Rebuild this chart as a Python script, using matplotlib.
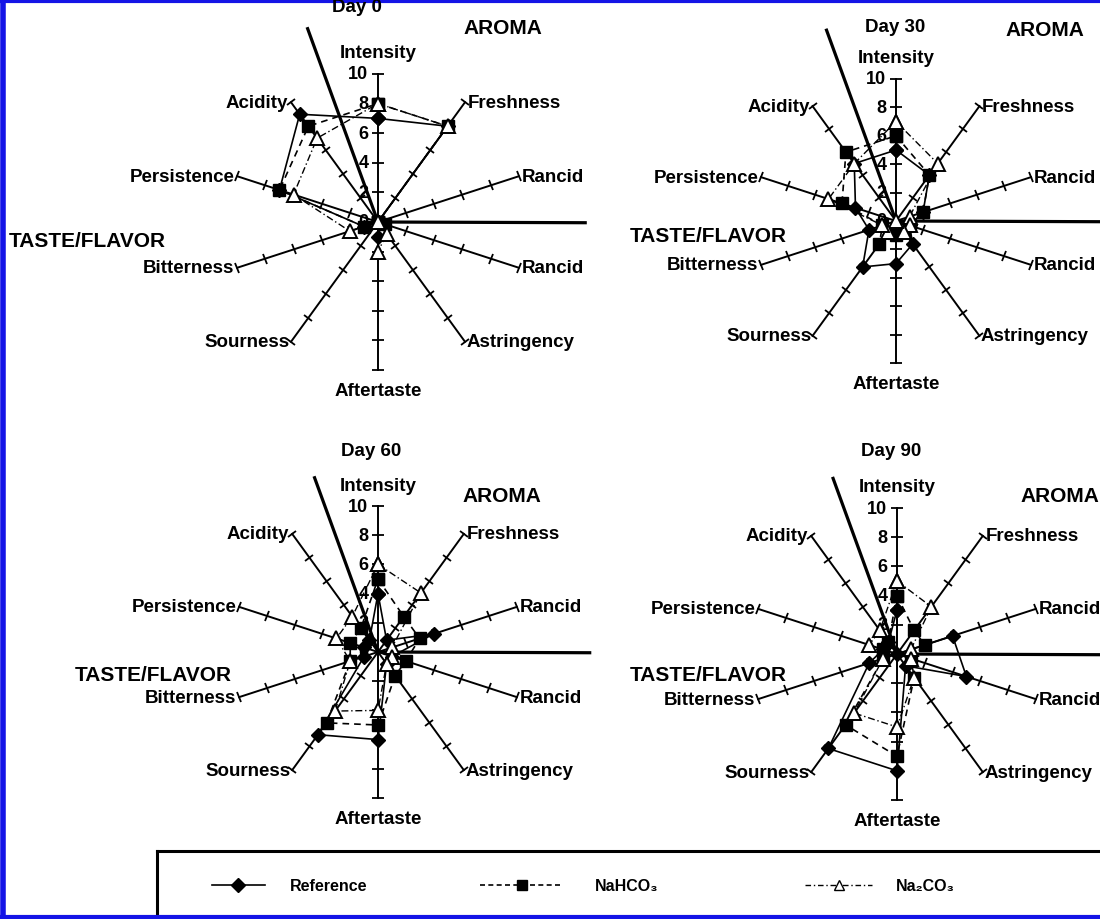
import numpy as np
import matplotlib
matplotlib.use('Agg')
import matplotlib.pyplot as plt
from matplotlib.markers import MarkerStyle
from matplotlib.transforms import Affine2D
from matplotlib.lines import Line2D

plt.rcParams['font.family'] = ['Liberation Sans', 'DejaVu Sans']
plt.rcParams['font.weight'] = 'bold'

# ---------------- data ----------------
categories = ['Intensity', 'Freshness', 'Rancid', 'Rancid', 'Astringency',
              'Aftertaste', 'Sourness', 'Bitterness', 'Persistence', 'Acidity']
days = ['Day 0', 'Day 30', 'Day 60', 'Day 90']
series_names = ['Reference', 'NaHCO\u2083', 'Na\u2082CO\u2083']
scale_ticks = [0, 2, 4, 6, 8, 10]

reference_day0 = [7, 8, 0, 0, 0, 1, 0, 1, 7, 9]
nahco3_day0 = [8, 8, 0, 0.5, 0, 0, 0, 1, 7, 8]
na2co3_day0 = [8, 8, 0, 0, 1, 2, 0, 2, 6, 7]

reference_day30 = [5, 4, 2, 1, 2, 3, 4, 2, 3, 5]
nahco3_day30 = [6, 4, 2, 1, 1, 1, 2, 1, 4, 6]
na2co3_day30 = [7, 5, 1, 1, 1, 0, 1, 1, 5, 5]

reference_day60 = [4, 1, 4, 1, 1, 6, 7, 1, 1, 1]
nahco3_day60 = [5, 3, 3, 2, 2, 5, 6, 2, 2, 2]
na2co3_day60 = [6, 5, 1, 1, 1, 4, 5, 2, 3, 3]

reference_day90 = [3, 0, 4, 5, 1, 8, 8, 2, 1, 1]
nahco3_day90 = [4, 2, 2, 1, 2, 7, 6, 1, 1, 1]
na2co3_day90 = [5, 4, 1, 1, 2, 5, 5, 1, 2, 2]

day_series = [
    (reference_day0, nahco3_day0, na2co3_day0),
    (reference_day30, nahco3_day30, na2co3_day30),
    (reference_day60, nahco3_day60, na2co3_day60),
    (reference_day90, nahco3_day90, na2co3_day90),
]

# ---------------- layout (pixels) ----------------
W, H = 1100, 920
centers = [(378, 223, 148), (896, 222, 142), (378, 653, 146), (897, 655, 146)]
divider_len = [13.9, 14.3, 12.7, 12.8]
horiz_len = [14.0, 14.6, 14.5, 14.6]
title_pos = [(357, 8), (895, 28), (371, 452), (891, 452)]
aroma_pos = [(503, 28), (1045, 30), (502, 497), (1060, 497)]
taste_pos = [(9, 242), (630, 236), (75, 676), (630, 676)]

FS = 13.5
NUM_FS = 13
styles = [
    dict(color='black', lw=1.2, ls='-', marker='D', ms=7.5, mfc='black', mec='black', zorder=5),
    dict(color='black', lw=1.2, ls=(0, (4, 3)), marker='s', ms=9, mfc='black', mec='black', zorder=6),
    dict(color='black', lw=1.0, ls=(0, (5, 2, 1, 2)), marker='^', ms=10, mfc='white', mec='black',
         mew=1.4, zorder=7),
]

fig = plt.figure(figsize=(W / 100, H / 100), dpi=100)
fig.patch.set_facecolor('white')

theta = np.deg2rad(np.arange(len(categories)) * 36.0)


def fx(x):
    return x / W


def fy(y):
    return 1 - y / H


label_cfg = {
    0: dict(ha='center', va='bottom', off=(0, 9)),
    1: dict(ha='left', va='center', off=(2, 0)),
    2: dict(ha='left', va='center', off=(2, 0)),
    3: dict(ha='left', va='center', off=(2, 0)),
    4: dict(ha='left', va='center', off=(1, 0)),
    5: dict(ha='center', va='top', off=(0, -9)),
    6: dict(ha='right', va='center', off=(-1, 0)),
    7: dict(ha='right', va='center', off=(-2, 0)),
    8: dict(ha='right', va='center', off=(-2, 0)),
    9: dict(ha='right', va='center', off=(-2, 0)),
}

for d, (cx, cy, r10) in enumerate(centers):
    ax = fig.add_axes([fx(cx - r10), fy(cy + r10), 2 * r10 / W, 2 * r10 / H], projection='polar')
    ax.set_theta_zero_location('N')
    ax.set_theta_direction(-1)
    ax.set_ylim(0, 10)
    ax.axis('off')

    # spokes with ticks
    for i, th in enumerate(theta):
        ax.plot([th, th], [0, 10], color='black', lw=1.4, clip_on=False, zorder=2)
        rot = 90 - np.rad2deg(th)
        tick_ms = 9 if i in (0, 5) else 7.5
        mk = MarkerStyle('|', transform=Affine2D().rotate_deg(rot))
        ax.plot([th] * 5, scale_ticks[1:], ls='none', marker=mk, ms=tick_ms, mew=1.3,
                color='black', clip_on=False, zorder=2)
        cfg = label_cfg[i]
        ax.annotate(categories[i], (th, 10), xytext=cfg['off'], textcoords='offset points',
                    ha=cfg['ha'], va=cfg['va'], fontsize=FS, fontweight='bold',
                    annotation_clip=False)

    # scale numbers on the Intensity spoke
    for v in scale_ticks:
        ax.annotate(str(v), (0, v), xytext=(-7, 0), textcoords='offset points',
                    ha='right', va='center', fontsize=NUM_FS, fontweight='bold',
                    annotation_clip=False)

    # AROMA / TASTE dividers
    ax.plot([np.deg2rad(-20), np.deg2rad(-20)], [0, divider_len[d]], color='black', lw=2.3,
            clip_on=False, zorder=3)
    ax.plot([np.deg2rad(90.2), np.deg2rad(90.2)], [0, horiz_len[d]], color='black', lw=2.3,
            clip_on=False, zorder=3)

    # data series
    th_closed = np.append(theta, theta[0])
    for s, vals in enumerate(day_series[d]):
        v = np.append(vals, vals[0])
        ax.plot(th_closed, v, clip_on=False, **styles[s])

    fig.text(fx(title_pos[d][0]), fy(title_pos[d][1]), days[d], ha='center', va='center',
             fontsize=FS, fontweight='bold')
    fig.text(fx(aroma_pos[d][0]), fy(aroma_pos[d][1]), 'AROMA', ha='center', va='center',
             fontsize=15, fontweight='bold')
    fig.text(fx(taste_pos[d][0]), fy(taste_pos[d][1]), 'TASTE/FLAVOR', ha='left', va='center',
             fontsize=15, fontweight='bold')

# ---------------- legend ----------------
legend_box_top, legend_box_left = 852, 157
fig.add_artist(Line2D([fx(legend_box_left), 1.0], [fy(legend_box_top)] * 2, color='black',
                      lw=2.2, transform=fig.transFigure))
fig.add_artist(Line2D([fx(legend_box_left)] * 2, [fy(legend_box_top), fy(918)], color='black',
                      lw=2.2, transform=fig.transFigure))

handles = [
    Line2D([], [], color='black', lw=1.2, ls='-', marker='D', ms=7, mfc='black'),
    Line2D([], [], color='black', lw=1.2, ls=(0, (3, 2)), marker='s', ms=7, mfc='black'),
    Line2D([], [], color='black', lw=1.0, ls=(0, (4, 2, 1, 2)), marker='^', ms=6.5, mfc='white',
           mew=1.0),
]
legend_x = [212, 480, 805]
legend_hl = [3.3, 5.2, 4.2]
legend_pad = [1.6, 2.0, 1.5]
for k in range(3):
    fig.legend([handles[k]], [series_names[k]], loc='center left',
               bbox_to_anchor=(fx(legend_x[k]), fy(887)), frameon=False,
               handlelength=legend_hl[k], handletextpad=legend_pad[k],
               borderaxespad=0, borderpad=0, numpoints=1,
               prop=dict(family=['Liberation Sans', 'DejaVu Sans'], weight='bold', size=11.5))

# ---------------- blue frame ----------------
blue = '#1414e6'
fig.add_artist(Line2D([0, 1], [fy(1.5)] * 2, color=blue, lw=3, transform=fig.transFigure))
fig.add_artist(Line2D([fx(2.5)] * 2, [0, 1], color=blue, lw=4, transform=fig.transFigure))
fig.add_artist(Line2D([0, 1], [fy(917.5)] * 2, color=blue, lw=3, transform=fig.transFigure))

fig.savefig('out.png', dpi=100, facecolor='white')
